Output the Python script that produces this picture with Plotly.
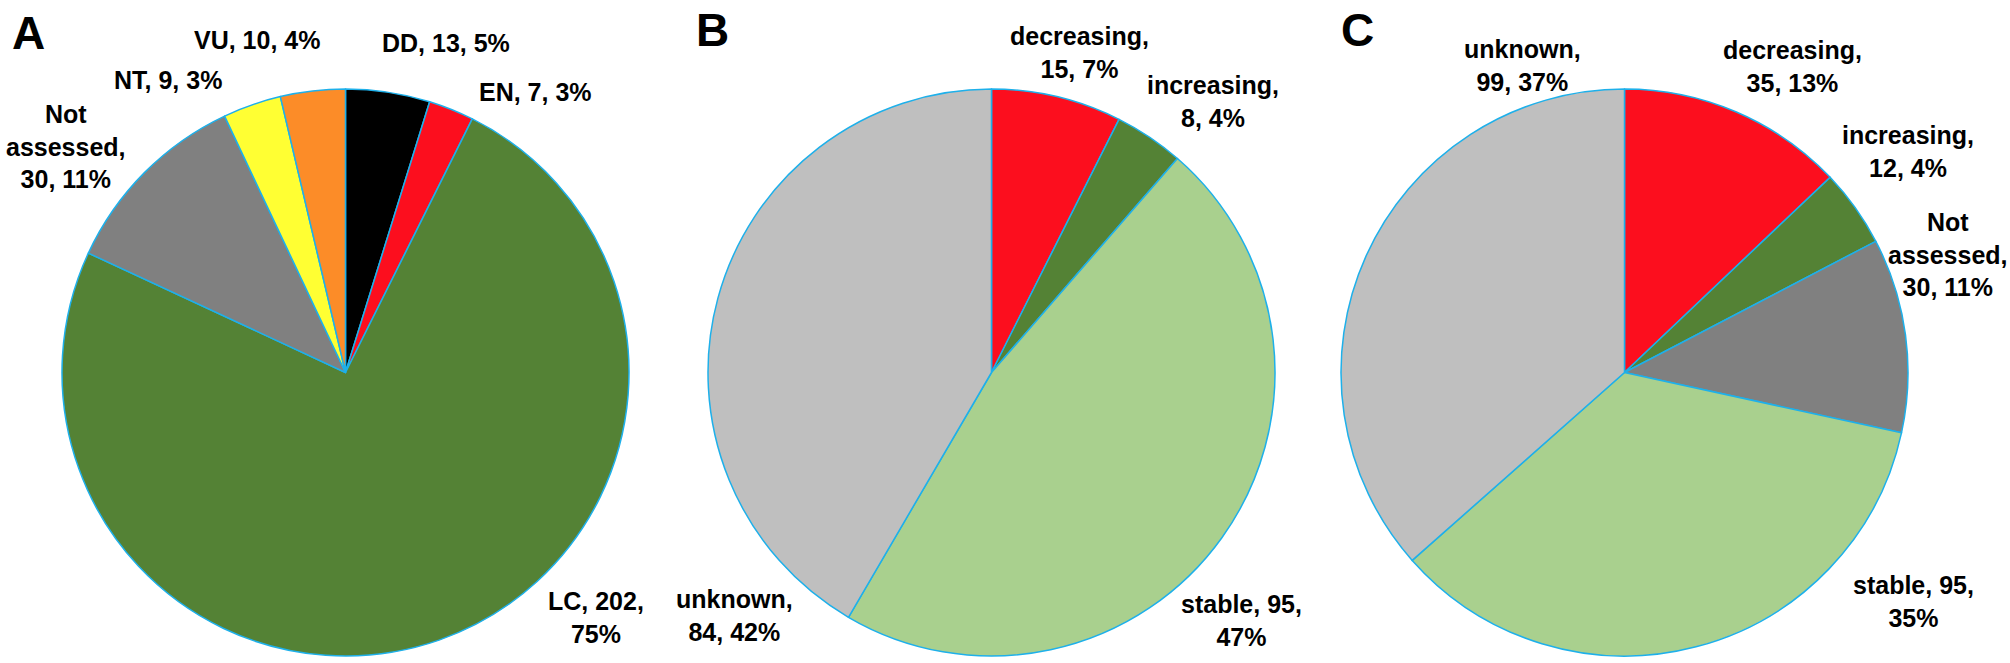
import plotly.graph_objects as go

# ---- data ----
a_labels = ["DD", "EN", "LC", "Not assessed", "NT", "VU"]
a_values = [13, 7, 202, 30, 9, 10]
b_labels = ["decreasing", "increasing", "stable", "unknown"]
b_values = [15, 8, 95, 84]
c_labels = ["decreasing", "increasing", "Not assessed", "stable", "unknown"]
c_values = [35, 12, 30, 95, 99]
panel_letters = ["A", "B", "C"]

# ---- styles ----
COL = {
    "DD": "#000000", "EN": "#FC0E1E", "LC": "#548235", "Not assessed": "#808080",
    "NT": "#FFFF33", "VU": "#FC8C28", "decreasing": "#FC0E1E", "increasing": "#548235",
    "stable": "#A9D08E", "unknown": "#BFBFBF",
}
EDGE = "#1EB0EA"
W, H = 2010, 663
FONT = "Liberation Sans, Arial, Helvetica, sans-serif"

# pie pixel boxes (left, right) and vertical extent
top_px, bot_px = 89, 656
x_boxes = [(62, 629), (708, 1275), (1341, 1908)]

# label block centers (pixels) and line-break style for each slice
# style 0: one line; 1: break before percent; 2: break after name; 3: three lines
a_place = [((446, 43), 0), ((535, 92), 0), ((596, 617), 1), ((66, 146), 3), ((168, 80), 0), ((257, 40), 0)]
b_place = [((1079, 53), 2), ((1213, 101), 2), ((1241, 620), 1), ((734, 615), 2)]
c_place = [((1792, 67), 2), ((1908, 152), 2), ((1948, 255), 3), ((1913, 601), 1), ((1522, 66), 2)]
letter_pos = [(28, 33), (712, 30), (1357, 30)]


def fmt(name, val, tot, style):
    pct = round(val / tot * 100)
    if style == 0:
        return f"{name}, {val}, {pct}%"
    if style == 1:
        return f"{name}, {val},<br>{pct}%"
    if style == 2:
        return f"{name},<br>{val}, {pct}%"
    parts = name.split(" ")
    return f"{parts[0]}<br>{parts[1]},<br>{val}, {pct}%"


fig = go.Figure()
annotations = []
sets = [(a_labels, a_values, a_place), (b_labels, b_values, b_place), (c_labels, c_values, c_place)]
for i, (labs, vals, places) in enumerate(sets):
    x0, x1 = x_boxes[i]
    fig.add_trace(go.Pie(
        labels=labs, values=vals, sort=False, direction="clockwise", rotation=0,
        marker=dict(colors=[COL[l] for l in labs], line=dict(color=EDGE, width=1.5)),
        textinfo="none", hoverinfo="label+value+percent", showlegend=False,
        domain=dict(x=[x0 / W, x1 / W], y=[1 - bot_px / H, 1 - top_px / H]),
    ))
    tot = sum(vals)
    for lab, val, ((px, py), style) in zip(labs, vals, places):
        annotations.append(dict(
            text="<b>" + fmt(lab, val, tot, style) + "</b>",
            x=px / W, y=1 - py / H, xref="paper", yref="paper",
            xanchor="center", yanchor="middle", showarrow=False, align="center",
            font=dict(family=FONT, size=25, color="#000000"),
        ))
    lx, ly = letter_pos[i]
    annotations.append(dict(
        text="<b>" + panel_letters[i] + "</b>", x=lx / W, y=1 - ly / H,
        xref="paper", yref="paper", xanchor="center", yanchor="middle",
        showarrow=False, font=dict(family=FONT, size=46, color="#000000"),
    ))

fig.update_layout(
    width=W, height=H, margin=dict(l=0, r=0, t=0, b=0),
    paper_bgcolor="#FFFFFF", plot_bgcolor="#FFFFFF",
    annotations=annotations,
)
fig.write_html(
    "out.html",
    config={"displayModeBar": False},
    post_script="document.body.style.margin='0';document.body.style.overflow='hidden';",
)
